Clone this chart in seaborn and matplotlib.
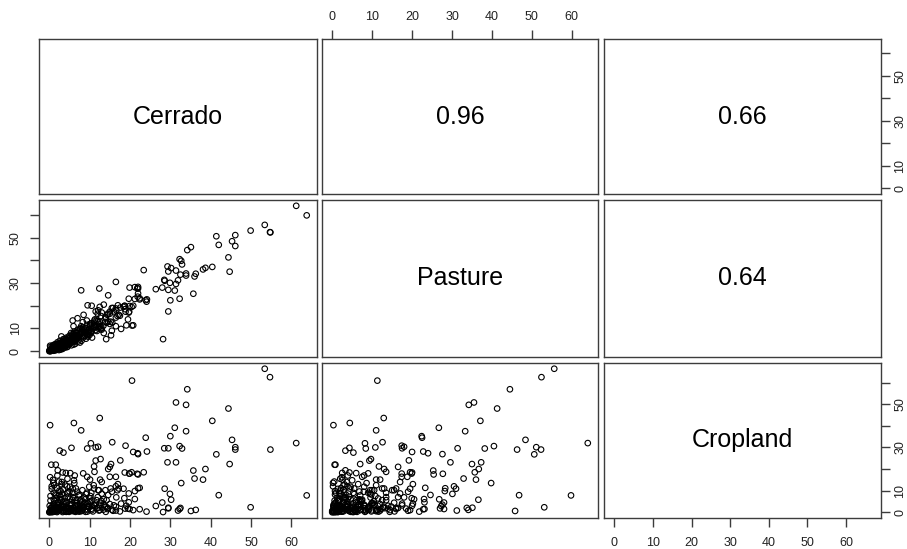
import matplotlib
matplotlib.use('Agg')
import matplotlib.pyplot as plt
import pandas as pd
import seaborn as sns

# variable names on the diagonal and correlation labels in the upper panels
names = ['Cerrado', 'Pasture', 'Cropland']
corr_labels = {(0, 1): '0.96', (0, 2): '0.66', (1, 2): '0.64'}
tick_values = [0, 10, 20, 30, 40, 50, 60]
y_tick_labels = ['0', '10', '', '30', '', '50', '']

cerrado = [
    53.4, 54.7, 34.2, 31.4, 33.9, 44.4, 40.4, 31.1, 33.9, 30.0, 23.9, 45.3, 61.2, 21.9, 22.0, 24.2,
    28.5, 32.3, 32.9, 41.4, 46.1, 46.1, 54.8, 29.3, 31.4, 44.7, 35.7, 38.7, 36.0, 38.1, 23.4, 22.0,
    21.8, 20.4, 32.7, 22.4, 28.6, 29.9, 30.2, 42.0, 63.8, 49.9, 26.4, 28.0, 28.2, 29.5, 31.9, 32.5,
    35.1, 36.3, 29.5, 32.3, 20.5, 29.5, 19.9, 21.2, 22.0, 19.7, 21.2, 22.4, 24.1, 19.9, 18.9, 19.5,
    19.1, 20.8, 20.8,
    0.2, 6.1, 7.9, 12.5, 2.6, 3.5, 5.5, 10.3, 9.4, 11.5, 12.1, 15.6, 0.5, 1.6, 12.7, 11.5,
    11.1, 17.6, 15.3, 15.0, 14.6, 2.1, 3.3, 4.1, 5.2, 6.1, 6.3, 8.4, 9.4, 10.1, 11.2, 12.6,
    15.0, 16.5, 18.7, 19.8, 6.6, 8.2, 9.9, 11.1, 12.3, 13.9, 15.2, 17.2, 18.4, 19.7, 16.9, 16.6,
    14.2, 14.4, 12.1, 11.7, 10.4, 10.1, 18.8, 7.9, 12.4, 14.6, 16.5, 9.5, 5.8, 14.1, 17.8, 17.0,
    18.6, 13.0, 14.5, 16.0, 10.5, 12.5, 13.5, 15.5, 11.5, 8.5, 7.0, 6.0, 16.5, 15.5, 13.5,
    0.2, 0.5, 0.8, 1.0, 1.2, 1.5, 1.8, 2.0, 2.2, 2.5, 2.7, 3.0, 3.2, 3.4, 3.6, 3.9,
    4.1, 4.3, 4.6, 4.8, 5.0, 5.2, 5.5, 5.7, 6.0, 6.2, 6.5, 6.8, 7.0, 7.3, 7.6, 7.9,
    8.2, 8.5, 8.8, 9.1, 9.4, 9.7, 10.0, 10.4, 10.8, 11.3, 11.8, 12.3, 12.8, 13.4, 14.0, 15.0,
    15.8, 16.5, 17.5, 0.1, 0.3, 0.6, 0.9, 1.1, 1.4, 1.7, 1.9, 2.1, 2.4, 2.6, 2.9, 3.1,
    3.3, 3.7, 4.0, 4.4, 4.7, 5.1, 5.4, 5.8, 6.1, 6.4, 6.9, 7.2, 7.7, 8.0, 8.6, 9.0,
    9.6, 10.2, 0.4, 0.7, 1.3, 1.6, 2.3, 2.8, 3.5, 4.2, 4.9, 5.6, 6.3, 7.1, 0.2, 1.0,
    2.0, 3.0, 4.5, 0.0, 0.1, 0.3, 0.6, 1.2, 8.3, 9.3, 10.6, 11.0, 12.0, 13.0,
    0.4, 0.9, 1.1, 1.5, 1.9, 2.2, 2.6, 2.9, 3.3, 3.6, 3.9, 4.3, 4.6, 5.0, 5.3, 5.7,
    6.0, 6.4, 6.8, 7.2, 7.6, 8.0, 8.5, 9.0, 9.5, 0.3, 0.8, 1.3, 1.7, 2.1, 2.5, 3.0,
    3.4, 3.8, 4.2, 4.7, 5.1, 5.6, 6.2, 6.7, 7.4, 8.1, 8.9, 9.8, 10.5, 11.2, 12.0, 12.9,
    13.8, 0.6, 1.2, 2.4, 3.2, 4.4, 5.9, 7.5, 0.5, 1.0, 1.4, 2.0,
]
pasture = [
    55.6, 52.4, 44.5, 35.5, 34.2, 41.3, 37.1, 26.7, 33.3, 22.4, 22.5, 48.4, 64.0, 24.0, 27.6, 22.8,
    31.4, 40.5, 38.2, 50.6, 51.1, 46.3, 52.3, 37.3, 29.6, 35.0, 25.3, 36.7, 32.9, 36.0, 35.7, 25.4,
    27.7, 19.5, 39.8, 23.3, 31.0, 30.1, 36.6, 46.8, 59.8, 53.1, 27.3, 28.0, 5.3, 27.0, 31.2, 33.7,
    45.8, 34.1, 35.1, 23.1, 11.3, 17.5, 28.0, 28.2, 28.3, 23.1, 23.0, 22.8, 21.8, 19.9, 17.4, 14.0,
    11.4, 11.4, 20.0,
    0.3, 4.4, 11.0, 12.9, 3.3, 5.3, 4.3, 8.2, 8.4, 10.8, 18.0, 12.6, 0.6, 0.8, 9.7, 9.3,
    11.7, 19.2, 7.0, 16.5, 13.0, 3.3, 4.3, 2.5, 6.0, 5.0, 8.0, 9.0, 7.5, 12.0, 13.5, 11.0,
    17.4, 18.8, 20.0, 17.4, 5.5, 9.5, 8.0, 12.5, 10.5, 15.0, 13.0, 16.0, 19.5, 17.0, 15.5, 18.0,
    12.5, 16.0, 10.0, 13.5, 9.0, 11.5, 18.5, 26.8, 27.6, 24.6, 30.5, 20.2, 13.5, 5.3, 9.8, 20.2,
    19.9, 17.0, 16.5, 17.5, 20.0, 19.5, 20.5, 19.0, 17.5, 16.0, 14.5, 11.0, 11.0, 9.0, 8.0,
    0.1, 0.8, 0.3, 1.5, 0.6, 2.0, 1.2, 2.8, 1.6, 3.5, 2.2, 1.4, 4.0, 2.9, 5.2, 3.1,
    2.4, 6.0, 4.2, 3.3, 6.8, 5.0, 2.6, 7.5, 4.8, 8.6, 6.2, 5.3, 9.2, 7.0, 3.8, 8.4,
    6.6, 10.5, 7.8, 5.5, 11.6, 9.0, 7.2, 12.3, 9.8, 14.0, 8.9, 12.0, 15.5, 11.2, 14.4, 12.0,
    19.0, 14.8, 15.6, 0.5, 1.9, 0.2, 2.6, 0.9, 3.0, 0.5, 2.2, 0.8, 1.1, 4.6, 2.0, 3.6,
    1.0, 2.5, 5.5, 1.8, 5.9, 3.9, 8.0, 4.4, 6.9, 3.2, 7.9, 5.9, 10.0, 4.6, 9.6, 8.2,
    6.4, 10.8, 0.4, 1.2, 1.8, 1.0, 2.6, 0.7, 3.8, 3.6, 4.7, 5.7, 7.2, 6.6, 2.4, 0.2,
    3.9, 6.5, 2.0, 0.0, 0.3, 0.0, 0.6, 2.3, 12.8, 13.5, 6.0, 11.0, 16.5, 9.5,
    1.0, 0.4, 1.7, 0.7, 1.4, 2.9, 1.9, 3.2, 2.4, 4.4, 1.6, 4.9, 3.0, 5.6, 3.6, 6.3,
    2.9, 5.6, 8.2, 4.3, 7.4, 9.9, 6.1, 10.2, 7.0, 0.6, 1.9, 0.3, 2.6, 1.3, 2.0, 3.9,
    1.7, 3.4, 5.1, 2.7, 4.6, 6.8, 4.1, 7.0, 5.2, 8.0, 6.8, 9.4, 8.4, 10.6, 13.2, 10.4,
    12.9, 1.4, 2.8, 0.5, 2.1, 3.8, 5.3, 9.8, 0.2, 0.9, 1.3, 1.8,
]
cropland = [
    66.4, 62.5, 56.9, 50.8, 49.7, 48.0, 42.3, 39.1, 37.5, 35.2, 34.5, 33.5, 32.0, 27.3, 26.9, 28.1,
    29.6, 30.6, 29.5, 26.8, 30.1, 29.0, 29.0, 23.1, 23.1, 22.3, 19.3, 20.0, 15.6, 15.1, 18.5, 17.5,
    17.8, 18.5, 13.5, 11.3, 10.9, 8.5, 5.8, 7.9, 7.8, 2.3, 2.9, 4.5, 0.1, 1.8, 0.8, 2.0,
    0.6, 1.1, 2.1, 1.5, 60.9, 29.6, 1.5, 9.8, 11.1, 4.6, 6.1, 1.4, 0.3, 17.9, 30.8, 1.7,
    3.0, 1.0, 27.9,
    40.3, 41.3, 37.9, 43.6, 28.5, 27.6, 29.8, 31.9, 29.5, 30.0, 30.3, 32.4, 22.0, 22.0, 24.6, 23.9,
    21.2, 24.0, 22.3, 21.0, 20.0, 19.4, 18.4, 18.2, 18.1, 14.8, 17.0, 18.0, 16.4, 15.1, 18.7, 15.1,
    16.4, 16.4, 18.4, 17.9, 11.0, 10.2, 11.8, 11.0, 10.2, 10.2, 11.0, 11.0, 10.9, 8.7, 10.2, 6.9,
    5.6, 1.5, 10.2, 5.6, 9.0, 6.4, 1.7, 6.0, 3.5, 8.0, 12.0, 4.0, 7.0, 2.5, 4.0, 13.0,
    6.5, 14.0, 2.0, 3.2, 3.0, 1.0, 6.0, 9.5, 4.0, 2.0, 1.0, 0.5, 0.8, 1.2, 3.5,
    0.5, 1.2, 2.5, 0.2, 4.0, 1.0, 6.5, 0.4, 3.2, 8.0, 1.8, 5.5, 0.8, 10.5, 2.2, 12.8,
    0.3, 4.6, 7.2, 1.5, 9.6, 3.0, 0.6, 5.8, 2.0, 13.5, 0.2, 4.2, 1.2, 7.8, 2.8, 0.5,
    5.0, 3.6, 1.0, 8.4, 0.3, 2.4, 4.8, 1.6, 0.4, 3.0, 2.0, 0.8, 4.4, 1.2, 0.2, 3.8,
    0.7, 2.6, 0.4, 3.0, 7.5, 12.0, 15.0, 9.0, 2.0, 0.6, 11.2, 4.4, 0.9, 6.0, 2.8, 14.0,
    0.1, 3.6, 1.1, 8.8, 0.5, 6.2, 1.9, 11.0, 0.9, 3.3, 9.5, 0.6, 4.0, 1.7, 6.8, 0.2,
    3.1, 7.5, 1.8, 0.3, 5.2, 2.6, 1.4, 9.8, 4.8, 2.4, 0.2, 1.3, 2.7, 3.4, 16.2, 13.6,
    17.0, 13.0, 15.5, 0.0, 0.1, 0.6, 0.0, 0.3, 2.2, 9.0, 5.5, 12.5, 7.0, 8.6,
    2.0, 3.6, 6.0, 8.2, 0.1, 4.8, 1.2, 7.0, 2.6, 0.4, 5.0, 1.8, 9.2, 0.9, 3.8, 1.5,
    6.6, 0.7, 2.9, 1.4, 5.3, 0.9, 2.3, 4.2, 1.3, 5.4, 1.0, 3.1, 7.8, 1.7, 10.0, 3.4,
    1.0, 6.4, 0.2, 2.1, 11.8, 3.6, 1.0, 5.6, 0.3, 3.0, 6.0, 2.8, 1.0, 3.4, 1.9, 5.2,
    2.6, 10.8, 12.5, 14.2, 8.6, 12.0, 9.0, 8.2, 0.9, 0.5, 1.6, 2.4,
]

df = pd.DataFrame({'Cerrado': cerrado, 'Pasture': pasture, 'Cropland': cropland})

sns.set_style('white')
plt.rcParams['font.family'] = ['Liberation Sans', 'DejaVu Sans']

W, H = 907, 549
fig = plt.figure(figsize=(W / 100, H / 100), dpi=100)

# panel edges in pixels
col_edges = [(39, 317), (322, 598), (604, 881)]
row_edges = [(39, 194), (200, 357), (363, 518)]


def padded_range(values):
    lo, hi = min(values), max(values)
    pad = (hi - lo) * 0.04
    return lo - pad, hi + pad


for i in range(3):
    for j in range(3):
        x0, x1 = col_edges[j]
        y0, y1 = row_edges[i]
        ax = fig.add_axes([x0 / W, 1 - y1 / H, (x1 - x0) / W, (y1 - y0) / H])
        ax.set_xlim(padded_range(df[names[j]]))
        ax.set_ylim(padded_range(df[names[i]]))

        if i > j:
            sns.scatterplot(data=df, x=names[j], y=names[i], ax=ax, marker='o', s=16,
                            facecolors='none', edgecolors='black', linewidth=0.8)
        elif i == j:
            ax.text(0.5, 0.5, names[i], transform=ax.transAxes, ha='center', va='center',
                    fontsize=18, color='black')
        else:
            ax.text(0.5, 0.5, corr_labels[(i, j)], transform=ax.transAxes, ha='center',
                    va='center', fontsize=18, color='black')

        ax.set_xlabel('')
        ax.set_ylabel('')
        for sp in ax.spines.values():
            sp.set_visible(True)
            sp.set_color('#3c3c3c')
            sp.set_linewidth(1.0)

        ax.set_xticks(tick_values)
        ax.set_xticklabels([str(t) for t in tick_values])
        ax.set_yticks(tick_values)
        ax.set_yticklabels(y_tick_labels, rotation=90, va='center')
        ax.tick_params(axis='both', length=6.5, width=1.0, color='#3c3c3c',
                       labelsize=9, pad=6, labelcolor='#222222',
                       bottom=False, top=False, left=False, right=False,
                       labelbottom=False, labeltop=False, labelleft=False, labelright=False)

        # axes alternate sides as in R's pairs()
        if i == 2 and j in (0, 2):
            ax.tick_params(axis='x', bottom=True, labelbottom=True, pad=7)
        if i == 0 and j == 1:
            ax.tick_params(axis='x', top=True, labeltop=True, pad=5)
        if j == 0 and i == 1:
            ax.tick_params(axis='y', left=True, labelleft=True, pad=6)
        if j == 2 and i in (0, 2):
            ax.tick_params(axis='y', right=True, labelright=True, pad=3)

fig.savefig('out.png', dpi=100, facecolor='white')
